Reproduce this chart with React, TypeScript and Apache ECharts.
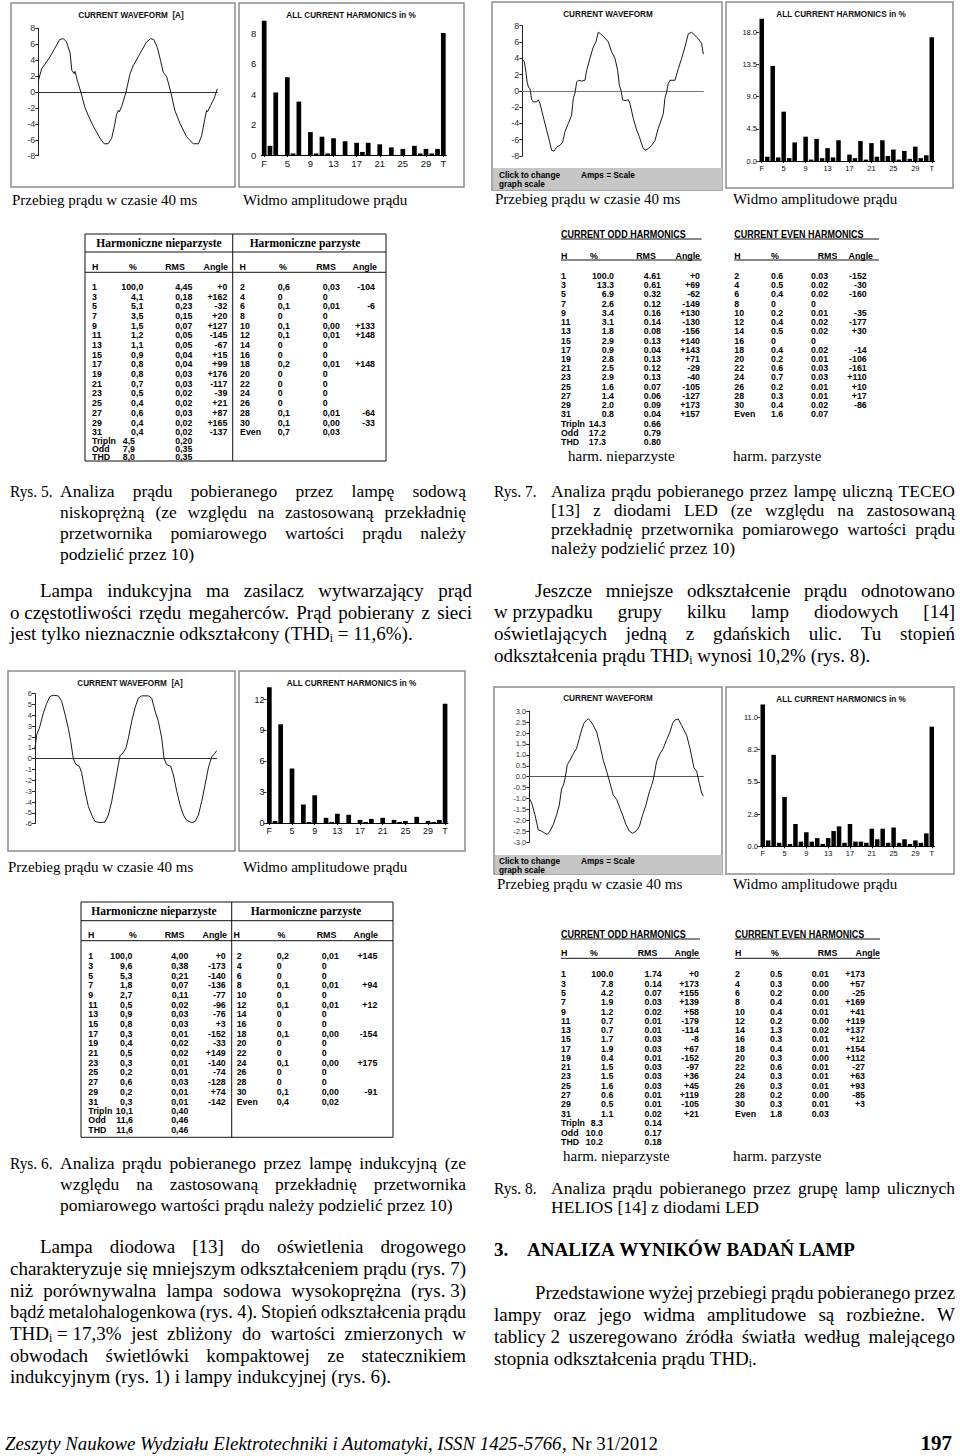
import { useEffect, useRef } from 'react';
import * as echarts from 'echarts';

// ======================= DATA =======================
const harmonicCategories = ['F','2','3','4','5','6','7','8','9','10','11','12','13','14','15','16','17','18','19','20','21','22','23','24','25','26','27','28','29','30','31','T'];
const oddOrders = [1,3,5,7,9,11,13,15,17,19,21,23,25,27,29,31];
const evenOrders = [2,4,6,8,10,12,14,16,18,20,22,24,26,28,30];
const summaryRowLabels = ['Tripln', 'Odd', 'THD'];

// --- Rys. 5 (lampa sodowa niskoprężna) ---
const rys5OddPct = [100.0, 4.1, 5.1, 3.5, 1.5, 1.2, 1.1, 0.9, 0.8, 0.8, 0.7, 0.5, 0.4, 0.6, 0.4, 0.4];
const rys5OddRms = [4.45, 0.18, 0.23, 0.15, 0.07, 0.05, 0.05, 0.04, 0.04, 0.03, 0.03, 0.02, 0.02, 0.03, 0.02, 0.02];
const rys5OddAng = [0, 162, -32, 20, 127, -145, -67, 15, 99, 176, -117, -39, 21, 87, 165, -137];
const rys5EvenPct = [0.6, 0, 0.1, 0, 0.1, 0.1, 0, 0, 0.2, 0, 0, 0, 0, 0.1, 0.1];
const rys5EvenRms = [0.03, 0, 0.01, 0, 0.00, 0.01, 0, 0, 0.01, 0, 0, 0, 0, 0.01, 0.00];
const rys5EvenAng = [-104, null, -6, null, 133, 148, null, null, 148, null, null, null, null, -64, -33];
const rys5SummaryPct = [4.5, 7.9, 8.0];
const rys5SummaryRms = [0.20, 0.35, 0.35];
const rys5EvenTotal = [0.7, 0.03];
const rys5WaveT = [0,0.74,2.6,3.7,4.8,5.6,6.3,7.1,7.5,8.0,8.2,8.7,9.5,10.4,11.2,12.3,13.8,14.7,15.6,16.4,17.1,17.5,17.9,18.1,18.7,19.6,20.5,21.2,22.7,24.2,25.1,25.8,26.6,27.3,27.9,28.3,28.7,29.6,30.5,31.7,33.1,34.6,35.8,36.5,37.2,37.6,37.8,38.5,39.3,40.0];
const rys5WaveI = [1.4,2.9,4.4,5.5,6.6,6.7,6.3,4.9,2.7,2.3,2.6,1.5,0.0,-1.9,-3.0,-4.3,-5.8,-6.5,-6.5,-5.8,-4.0,-2.8,-2.3,-2.5,-1.7,0.0,2.3,3.3,4.8,6.3,6.7,6.6,5.6,4.0,2.5,2.2,1.9,0.0,-2.3,-4.0,-5.6,-6.5,-6.5,-5.5,-3.4,-2.3,-2.5,-1.7,-0.8,0.4];
const rys5HarmTickValues = [0, 2, 4, 6, 8];
const rys5HarmTickLabels = ['0', '2', '4', '6', '8'];

// --- Rys. 7 (lampa TECEO z diodami LED) ---
const rys7OddPct = [100.0, 13.3, 6.9, 2.6, 3.4, 3.1, 1.8, 2.9, 0.9, 2.8, 2.5, 2.9, 1.6, 1.4, 2.0, 0.8];
const rys7OddRms = [4.61, 0.61, 0.32, 0.12, 0.16, 0.14, 0.08, 0.13, 0.04, 0.13, 0.12, 0.13, 0.07, 0.06, 0.09, 0.04];
const rys7OddAng = [0, 69, -62, -149, 130, -130, -156, 140, 143, 71, -29, -40, -105, -127, 173, 157];
const rys7EvenPct = [0.6, 0.5, 0.4, 0, 0.2, 0.4, 0.5, 0, 0.4, 0.2, 0.6, 0.7, 0.2, 0.3, 0.4];
const rys7EvenRms = [0.03, 0.02, 0.02, 0, 0.01, 0.02, 0.02, 0, 0.02, 0.01, 0.03, 0.03, 0.01, 0.01, 0.02];
const rys7EvenAng = [-152, -30, -160, null, -35, -177, 30, null, -14, -106, -161, 110, 10, 17, -86];
const rys7SummaryPct = [14.3, 17.2, 17.3];
const rys7SummaryRms = [0.66, 0.79, 0.80];
const rys7EvenTotal = [1.6, 0.07];
const rys7WaveT = [0,0.44,0.81,1.10,1.40,1.69,2.06,2.43,3.17,3.54,3.90,4.64,5.38,5.97,6.48,7.00,7.59,8.32,8.91,9.43,10.17,10.90,11.27,11.64,12.01,12.37,13.11,13.85,14.22,14.95,15.69,16.28,16.79,17.31,18.27,19.00,19.74,20.48,21.07,21.44,21.80,22.17,22.69,23.42,23.79,24.53,25.27,25.85,26.59,27.11,27.84,28.58,29.32,30.05,30.57,31.16,31.53,31.90,32.26,32.63,33.74,34.47,35.21,35.95,36.68,37.42,38.16,38.89,39.63,40.0];
const rys7WaveI = [3.8,3.6,2.3,1.0,0.4,0.3,-1.1,-1.35,-1.35,-1.1,-1.55,-3.2,-4.8,-6.1,-7.3,-7.4,-6.9,-6.7,-6.3,-5.0,-4.0,-3.0,-0.9,-0.3,1.1,1.3,1.2,1.3,2.5,4.0,5.4,6.0,7.2,7.0,6.5,6.0,4.8,4.0,2.5,0.7,0.1,-1.1,-1.2,-1.1,-1.55,-3.4,-4.8,-5.6,-6.9,-7.3,-7.1,-6.7,-6.1,-4.6,-3.8,-2.8,-0.9,-0.1,0.9,1.3,1.3,2.7,4.0,5.4,7.0,7.2,6.8,6.4,5.8,4.5];
const rys7HarmTickValues = [0, 4.5, 9, 13.5, 18];
const rys7HarmTickLabels = ['0.0', '4.5', '9.0', '13.5', '18.0'];

// --- Rys. 6 (lampa indukcyjna) ---
const rys6OddPct = [100.0, 9.6, 5.3, 1.8, 2.7, 0.5, 0.9, 0.8, 0.3, 0.4, 0.5, 0.3, 0.2, 0.6, 0.2, 0.3];
const rys6OddRms = [4.00, 0.38, 0.21, 0.07, 0.11, 0.02, 0.03, 0.03, 0.01, 0.02, 0.02, 0.01, 0.01, 0.03, 0.01, 0.01];
const rys6OddAng = [0, -173, -140, -136, -77, -96, -76, 3, -152, -33, 149, -140, -74, -128, 74, -142];
const rys6EvenPct = [0.2, 0, 0, 0.1, 0, 0.1, 0, 0, 0.1, 0, 0, 0.1, 0, 0, 0.1];
const rys6EvenRms = [0.01, 0, 0, 0.01, 0, 0.01, 0, 0, 0.00, 0, 0, 0.00, 0, 0, 0.00];
const rys6EvenAng = [145, null, null, 94, null, 12, null, null, -154, null, null, 175, null, null, -91];
const rys6SummaryPct = [10.1, 11.6, 11.6];
const rys6SummaryRms = [0.40, 0.46, 0.46];
const rys6EvenTotal = [0.4, 0.02];
const rys6WaveT = [0,0.37,0.95,1.83,2.57,3.30,4.04,5.14,5.87,6.61,7.34,7.86,8.44,9.03,9.76,10.28,11.01,11.74,12.48,13.21,14.31,15.41,16.15,16.88,17.62,18.35,18.72,19.31,20.04,20.55,21.29,22.02,22.76,23.49,24.96,25.69,26.43,27.16,27.90,28.41,29.00,29.88,30.46,31.20,31.93,32.67,33.40,34.50,35.23,35.97,36.70,37.44,38.17,38.91,39.64,40.0];
const rys6WaveI = [1.0,2.2,2.8,4.2,5.1,5.75,5.85,5.8,5.3,4.1,2.8,1.6,0,-0.55,-0.7,-1.3,-3.0,-4.4,-5.2,-5.8,-5.9,-5.85,-5.2,-3.95,-2.25,-0.55,0.3,0.5,1.0,1.9,3.45,4.7,5.6,5.8,5.8,5.6,4.4,3.45,1.9,0,-0.55,-0.7,-1.5,-3.0,-4.25,-5.2,-5.7,-5.9,-5.8,-5.2,-3.95,-2.4,-0.85,0.2,0.5,0.75];
const rys6HarmTickValues = [0, 3, 6, 9, 12];
const rys6HarmTickLabels = ['0', '3', '6', '9', '12'];

// --- Rys. 8 (grupa lamp HELIOS z diodami LED) ---
const rys8OddPct = [100.0, 7.8, 4.2, 1.9, 1.2, 0.7, 0.7, 1.7, 1.9, 0.4, 1.5, 1.5, 1.6, 0.6, 0.5, 1.1];
const rys8OddRms = [1.74, 0.14, 0.07, 0.03, 0.02, 0.01, 0.01, 0.03, 0.03, 0.01, 0.03, 0.03, 0.03, 0.01, 0.01, 0.02];
const rys8OddAng = [0, 173, 155, 139, 58, -179, -114, -8, 67, -152, -97, 36, 45, 119, -105, 21];
const rys8EvenPct = [0.5, 0.3, 0.2, 0.4, 0.4, 0.2, 1.3, 0.3, 0.4, 0.3, 0.6, 0.3, 0.3, 0.2, 0.3];
const rys8EvenRms = [0.01, 0.00, 0.00, 0.01, 0.01, 0.00, 0.02, 0.01, 0.01, 0.00, 0.01, 0.01, 0.01, 0.00, 0.01];
const rys8EvenAng = [173, 57, -25, 169, 41, 119, 137, 12, 154, 112, -27, 63, 93, -85, 3];
const rys8SummaryPct = [8.3, 10.0, 10.2];
const rys8SummaryRms = [0.14, 0.17, 0.18];
const rys8EvenTotal = [1.8, 0.03];
const rys8WaveT = [0,0.54,1.30,2.07,2.84,3.60,4.14,4.75,5.52,6.28,6.90,7.43,7.82,8.20,8.74,9.35,10.11,10.88,11.49,12.03,12.57,13.18,13.56,14.10,14.71,15.48,16.24,17.01,17.78,18.54,19.31,20.08,20.84,21.61,22.22,22.99,23.75,24.52,25.29,26.05,26.82,27.59,28.12,28.50,29.27,30.04,30.80,31.57,32.34,32.95,33.49,34.25,35.02,36.17,36.94,37.86,38.47,39.08,39.62,40.0];
const rys8WaveI = [-1.0,-1.2,-1.75,-2.45,-2.5,-2.6,-2.65,-2.5,-2.2,-1.75,-1.3,-0.55,-0.4,-0.1,0.55,0.75,1.05,1.3,1.75,2.15,2.45,2.6,2.65,2.55,2.35,2.05,1.45,0.75,0.25,-0.3,-0.85,-1.05,-1.45,-1.85,-2.2,-2.5,-2.6,-2.5,-2.3,-1.75,-1.3,-0.7,-0.4,-0.15,0.7,1.05,1.3,1.7,2.05,2.45,2.6,2.65,2.35,1.9,1.3,0.4,0.25,-0.3,-0.75,-0.9];
const rys8HarmTickValues = [0, 2.75, 5.5, 8.25, 11];
const rys8HarmTickLabels = ['0.0', '2.8', '5.5', '8.2', '11.0'];

// ======================= HELPERS =======================
const SERIF = '"Liberation Serif", "Times New Roman", serif';
const SANS = '"Liberation Sans", Arial, sans-serif';

let mctx: any = null;
function tw(text: string, size: number, family = SERIF, weight = 'normal', fstyle = 'normal') {
  if (!mctx) mctx = document.createElement('canvas').getContext('2d');
  mctx.font = `${fstyle} ${weight} ${size}px ${family}`;
  return mctx.measureText(text).width;
}

function T(x: number, y: number, text: string, size: number, o: any = {}) {
  return {
    type: 'text', x, y, silent: true,
    scaleX: o.scaleX ?? 1,
    style: {
      text,
      fill: o.color ?? '#000',
      fontSize: size,
      fontFamily: o.family ?? SERIF,
      fontWeight: o.weight ?? 'normal',
      fontStyle: o.fstyle ?? 'normal',
      align: o.align ?? 'left',
      verticalAlign: 'middle',
    },
  };
}
function L(x1: number, y1: number, x2: number, y2: number, color = '#000', w = 1) {
  return { type: 'line', silent: true, shape: { x1, y1, x2, y2 }, style: { stroke: color, lineWidth: w } };
}
function R(x: number, y: number, w: number, h: number, stroke: string | null, fill: string | null, lw = 1) {
  return { type: 'rect', silent: true, shape: { x, y, width: w, height: h }, style: { stroke: stroke ?? 'none', fill: fill ?? 'none', lineWidth: lw } };
}

function parseWord(w: string) {
  const segs: any[] = [];
  let buf = '';
  for (let i = 0; i < w.length; i++) {
    if (w[i] === '~' && i + 1 < w.length) {
      if (buf) segs.push({ t: buf, sub: false });
      buf = '';
      segs.push({ t: w[i + 1], sub: true });
      i++;
    } else buf += w[i];
  }
  if (buf) segs.push({ t: buf, sub: false });
  return segs;
}

// a line of text, justified between x0 and x1 when x1 is given
function textLine(out: any[], text: string, x0: number, x1: number | null, y: number, size: number, o: any = {}) {
  const fam = o.family ?? SERIF, wt = o.weight ?? 'normal', fs = o.fstyle ?? 'normal';
  const words = text.split(' ').map(parseWord);
  const segW = (g: any) => tw(g.t, g.sub ? size * 0.62 : size, fam, wt, fs);
  const widths = words.map((segs) => segs.reduce((s: number, g: any) => s + segW(g), 0));
  const total = widths.reduce((a, b) => a + b, 0);
  let sc = 1;
  let gap = tw(' ', size, fam, wt, fs);
  if (x1 != null && words.length > 1) {
    const minGap = size * 0.2;
    gap = (x1 - x0 - total) / (words.length - 1);
    if (gap < minGap) {
      gap = minGap;
      sc = (x1 - x0 - minGap * (words.length - 1)) / total;
    }
  }
  let x = x0;
  words.forEach((segs, i) => {
    let xx = x;
    segs.forEach((g: any) => {
      const s = g.sub ? size * 0.62 : size;
      out.push(T(xx, g.sub ? y + size * 0.28 : y, g.t, s, { family: fam, weight: wt, fstyle: fs, scaleX: sc }));
      xx += segW(g) * sc;
    });
    x += widths[i] * sc + gap;
  });
}

function harmonicBars(oddPct: number[], evenPct: number[], thd: number) {
  const out = [oddPct[0]];
  for (let k = 2; k <= 31; k++) out.push(k % 2 === 0 ? evenPct[(k - 2) / 2] : oddPct[(k - 1) / 2]);
  out.push(thd);
  return out;
}

const fmtNum = (v: number, d: number, sep: string) => v.toFixed(d).replace('.', sep);
const fmtPct = (v: number, sep: string) => (v === 0 ? '0' : fmtNum(v, 1, sep));
const fmtRms = (v: number, pct: number, sep: string) => (pct === 0 ? '0' : fmtNum(v, 2, sep));
const fmtAng = (a: number | null) => (a === null ? '' : (a >= 0 ? '+' : '') + a);

const TFS = 9.8;
const TSX = 0.9;

function tableBody(out: any[], d: any, c: any, sep: string) {
  const o = { family: SANS, weight: 'bold', scaleX: TSX };
  const rt = { ...o, align: 'right' };
  oddOrders.forEach((h, r) => {
    const y = c.y0 + r * c.dy;
    out.push(T(c.h, y, String(h), TFS, o));
    out.push(T(c.pctR, y, fmtPct(d.oddPct[r], sep), TFS, rt));
    out.push(T(c.rmsR, y, fmtRms(d.oddRms[r], d.oddPct[r], sep), TFS, rt));
    const a = fmtAng(d.oddAng[r]);
    if (a) out.push(T(c.angR, y, a, TFS, rt));
  });
  summaryRowLabels.forEach((lab, s) => {
    const y = c.y0 + 15 * c.dy + (s + 1) * c.sumDy;
    out.push(T(c.h, y, lab, TFS, o));
    out.push(T(c.sumPctR, y, fmtNum(d.sumPct[s], 1, sep), TFS, rt));
    out.push(T(c.rmsR, y, fmtNum(d.sumRms[s], 2, sep), TFS, rt));
  });
  evenOrders.forEach((h, r) => {
    const y = c.y0 + r * c.dy;
    out.push(T(c.eh, y, String(h), TFS, o));
    out.push(T(c.ep, y, fmtPct(d.evenPct[r], sep), TFS, o));
    out.push(T(c.er, y, fmtRms(d.evenRms[r], d.evenPct[r], sep), TFS, o));
    const a = fmtAng(d.evenAng[r]);
    if (a) out.push(T(c.eaR, y, a, TFS, rt));
  });
  const ye = c.y0 + 15 * c.dy;
  out.push(T(c.eh, ye, 'Even', TFS, o));
  out.push(T(c.ep, ye, fmtNum(d.evenTot[0], 1, sep), TFS, o));
  out.push(T(c.er, ye, fmtNum(d.evenTot[1], 2, sep), TFS, o));
}

function boxedTable(out: any[], d: any, c: any) {
  out.push(R(c.box[0], c.box[1], c.box[2], c.box[3], '#111', null, 1));
  out.push(L(c.sepX, c.box[1], c.sepX, c.box[1] + c.box[3], '#111'));
  out.push(L(c.box[0], c.hdrLineY, c.box[0] + c.box[2], c.hdrLineY, '#111'));
  out.push(L(c.box[0], c.colLineY, c.box[0] + c.box[2], c.colLineY, '#111'));
  out.push(T(c.hdrOddX, c.hdrY, 'Harmoniczne nieparzyste', 12.5, { align: 'center', weight: 'bold', scaleX: 0.92 }));
  out.push(T(c.hdrEvenX, c.hdrY, 'Harmoniczne parzyste', 12.5, { align: 'center', weight: 'bold', scaleX: 0.92 }));
  const o = { family: SANS, weight: 'bold', scaleX: TSX };
  c.labels.forEach((lb: any) => out.push(T(lb[1], c.labY, lb[0], TFS, { ...o, align: lb[2] })));
  tableBody(out, d, c, ',');
}

function ulTable(out: any[], d: any, c: any) {
  const o = { family: SANS, weight: 'bold', scaleX: 0.86 };
  out.push(T(c.oddX0, c.titleY, 'CURRENT ODD HARMONICS', 10.5, o));
  out.push(T(c.evenX0, c.titleY, 'CURRENT EVEN HARMONICS', 10.5, o));
  out.push(L(c.oddX0, c.ul1, c.oddX1, c.ul1, '#111'));
  out.push(L(c.evenX0, c.ul1, c.evenX1, c.ul1, '#111'));
  out.push(L(c.oddX0, c.ul2, c.oddX1, c.ul2, '#111'));
  out.push(L(c.evenX0, c.ul2, c.evenX1, c.ul2, '#111'));
  const lo = { family: SANS, weight: 'bold', scaleX: TSX };
  c.labels.forEach((lb: any) => out.push(T(lb[1], c.labY, lb[0], TFS, { ...lo, align: lb[2] })));
  tableBody(out, d, c, '.');
}

// ======================= OPTION =======================
function buildOption() {
  const g: any[] = [];

  // ---- chart panels ----
  const panel = (x: number, y: number, w: number, h: number) => g.push(R(x, y, w, h, '#8c8c8c', null, 1.5));
  panel(11, 3, 224, 184); panel(239, 3, 225, 184);
  panel(492, 2, 230, 188); panel(726, 2, 227, 186);
  panel(8, 671, 227, 180); panel(239, 671, 226, 180);
  panel(494, 687, 228, 187); panel(726, 687, 228, 187);
  g.push(R(493, 168, 229, 22, null, '#c6c6c6'));
  g.push(R(495, 855, 227, 19, null, '#c6c6c6'));
  const tOpt = { family: SANS, weight: 'bold', align: 'center', scaleX: 0.86, color: '#111' };
  g.push(T(131, 15, 'CURRENT WAVEFORM \u00a0[A]', 9.5, tOpt));
  g.push(T(351, 15, 'ALL CURRENT HARMONICS in %', 9.5, tOpt));
  g.push(T(608, 14, 'CURRENT WAVEFORM', 9.5, tOpt));
  g.push(T(841, 14, 'ALL CURRENT HARMONICS in %', 9.5, tOpt));
  g.push(T(130, 683, 'CURRENT WAVEFORM \u00a0[A]', 9.5, tOpt));
  g.push(T(351.5, 683, 'ALL CURRENT HARMONICS in %', 9.5, tOpt));
  g.push(T(608, 698, 'CURRENT WAVEFORM', 9.5, tOpt));
  g.push(T(841, 698.7, 'ALL CURRENT HARMONICS in %', 9.5, tOpt));
  const gb = { family: SANS, weight: 'bold', scaleX: 0.92 };
  g.push(T(499, 174.5, 'Click to change', 9, gb));
  g.push(T(499, 183.5, 'graph scale', 9, gb));
  g.push(T(581, 174.5, 'Amps = Scale', 9, gb));
  g.push(T(499, 860.5, 'Click to change', 9, gb));
  g.push(T(499, 869.5, 'graph scale', 9, gb));
  g.push(T(581, 860.5, 'Amps = Scale', 9, gb));

  // ---- captions under the charts ----
  g.push(T(12, 200, 'Przebieg prądu w czasie 40 ms', 15));
  g.push(T(243, 200, 'Widmo amplitudowe prądu', 15));
  g.push(T(495, 199, 'Przebieg prądu w czasie 40 ms', 15));
  g.push(T(733, 199, 'Widmo amplitudowe prądu', 15));
  g.push(T(8, 867, 'Przebieg prądu w czasie 40 ms', 15));
  g.push(T(243, 867, 'Widmo amplitudowe prądu', 15));
  g.push(T(497, 884, 'Przebieg prądu w czasie 40 ms', 15));
  g.push(T(733, 884, 'Widmo amplitudowe prądu', 15));
  g.push(T(568, 456, 'harm. nieparzyste', 15));
  g.push(T(733, 456, 'harm. parzyste', 15));
  g.push(T(563, 1156, 'harm. nieparzyste', 15));
  g.push(T(733, 1156, 'harm. parzyste', 15));

  // ---- tables ----
  boxedTable(g, {
    oddPct: rys5OddPct, oddRms: rys5OddRms, oddAng: rys5OddAng, evenPct: rys5EvenPct, evenRms: rys5EvenRms, evenAng: rys5EvenAng,
    sumPct: rys5SummaryPct, sumRms: rys5SummaryRms, evenTot: rys5EvenTotal,
  }, {
    box: [85, 234, 301, 227], sepX: 232.7, hdrLineY: 252, colLineY: 272.3, hdrY: 243, hdrOddX: 159, hdrEvenX: 305, labY: 266.5,
    labels: [['H', 92, 'left'], ['%', 133, 'center'], ['RMS', 175, 'center'], ['Angle', 228, 'right'], ['H', 239.5, 'left'], ['%', 283, 'center'], ['RMS', 326, 'center'], ['Angle', 377, 'right']],
    y0: 286.7, dy: 9.69, sumDy: 8.4, h: 92, pctR: 143.3, sumPctR: 135, rmsR: 192.3, angR: 227.3, eh: 240, ep: 277.7, er: 322.7, eaR: 375,
  });
  boxedTable(g, {
    oddPct: rys6OddPct, oddRms: rys6OddRms, oddAng: rys6OddAng, evenPct: rys6EvenPct, evenRms: rys6EvenRms, evenAng: rys6EvenAng,
    sumPct: rys6SummaryPct, sumRms: rys6SummaryRms, evenTot: rys6EvenTotal,
  }, {
    box: [81, 902, 312, 235.3], sepX: 231.7, hdrLineY: 920.7, colLineY: 940.7, hdrY: 911.3, hdrOddX: 154, hdrEvenX: 306, labY: 935,
    labels: [['H', 88, 'left'], ['%', 133, 'center'], ['RMS', 174.5, 'center'], ['Angle', 227, 'right'], ['H', 233.5, 'left'], ['%', 281.5, 'center'], ['RMS', 326.5, 'center'], ['Angle', 378, 'right']],
    y0: 956.3, dy: 9.67, sumDy: 9.4, h: 88.3, pctR: 132.3, sumPctR: 133, rmsR: 188.3, angR: 225.7, eh: 236.7, ep: 276.7, er: 321.7, eaR: 377.3,
  });
  ulTable(g, {
    oddPct: rys7OddPct, oddRms: rys7OddRms, oddAng: rys7OddAng, evenPct: rys7EvenPct, evenRms: rys7EvenRms, evenAng: rys7EvenAng,
    sumPct: rys7SummaryPct, sumRms: rys7SummaryRms, evenTot: rys7EvenTotal,
  }, {
    titleY: 234.3, ul1: 239, oddX0: 561, oddX1: 701.7, evenX0: 734.3, evenX1: 879, labY: 255.5, ul2: 260,
    labels: [['H', 561, 'left'], ['%', 594, 'center'], ['RMS', 646, 'center'], ['Angle', 700, 'right'], ['H', 734.3, 'left'], ['%', 775, 'center'], ['RMS', 827.5, 'center'], ['Angle', 873, 'right']],
    y0: 275.7, dy: 9.24, sumDy: 9.24, h: 561, pctR: 614, sumPctR: 606, rmsR: 661, angR: 700, eh: 734.3, ep: 771, er: 811, eaR: 866.7,
  });
  ulTable(g, {
    oddPct: rys8OddPct, oddRms: rys8OddRms, oddAng: rys8OddAng, evenPct: rys8EvenPct, evenRms: rys8EvenRms, evenAng: rys8EvenAng,
    sumPct: rys8SummaryPct, sumRms: rys8SummaryRms, evenTot: rys8EvenTotal,
  }, {
    titleY: 934.3, ul1: 939, oddX0: 561, oddX1: 700, evenX0: 735, evenX1: 880, labY: 953, ul2: 958.3,
    labels: [['H', 561, 'left'], ['%', 594, 'center'], ['RMS', 647.5, 'center'], ['Angle', 699, 'right'], ['H', 735, 'left'], ['%', 775, 'center'], ['RMS', 827.5, 'center'], ['Angle', 880, 'right']],
    y0: 974.3, dy: 9.27, sumDy: 9.5, h: 561, pctR: 613.3, sumPctR: 603, rmsR: 661.7, angR: 699, eh: 735, ep: 770, er: 811.7, eaR: 865,
  });

  // ---- body text ----
  const CAP = 17.5, BODY = 19;
  const rysO = { scaleX: 0.88 };
  g.push(T(10, 491, 'Rys. 5.', CAP, rysO));
  textLine(g, 'Analiza prądu pobieranego przez lampę sodową', 60, 466, 491, CAP);
  textLine(g, 'niskoprężną (ze względu na zastosowaną przekładnię', 60, 466, 512, CAP);
  textLine(g, 'przetwornika pomiarowego wartości prądu należy', 60, 466, 533, CAP);
  textLine(g, 'podzielić przez 10)', 60, null, 554, CAP);
  textLine(g, 'Lampa indukcyjna ma zasilacz wytwarzający prąd', 40, 472, 590, BODY);
  textLine(g, 'o\u00a0częstotliwości rzędu megaherców. Prąd pobierany z sieci', 10, 472, 612, BODY);
  textLine(g, 'jest tylko nieznacznie odkształcony (THD~i\u00a0=\u00a011,6%).', 10, null, 633, BODY);

  g.push(T(494, 491, 'Rys. 7.', CAP, rysO));
  textLine(g, 'Analiza prądu pobieranego przez lampę uliczną TECEO', 551, 955, 491, CAP);
  textLine(g, '[13] z diodami LED (ze względu na zastosowaną', 551, 955, 510, CAP);
  textLine(g, 'przekładnię przetwornika pomiarowego wartości prądu', 551, 955, 529, CAP);
  textLine(g, 'należy podzielić przez 10)', 551, null, 548, CAP);
  textLine(g, 'Jeszcze mniejsze odkształcenie prądu odnotowano', 535, 955, 590, BODY);
  textLine(g, 'w\u00a0przypadku grupy kilku lamp diodowych [14]', 494, 955, 611, BODY);
  textLine(g, 'oświetlających jedną z gdańskich ulic. Tu stopień', 494, 955, 633, BODY);
  textLine(g, 'odkształcenia prądu THD~i wynosi 10,2% (rys. 8).', 494, null, 655, BODY);

  g.push(T(10, 1163, 'Rys. 6.', CAP, rysO));
  textLine(g, 'Analiza prądu pobieranego przez lampę indukcyjną (ze', 60, 466, 1163, CAP);
  textLine(g, 'względu na zastosowaną przekładnię przetwornika', 60, 466, 1184, CAP);
  textLine(g, 'pomiarowego wartości prądu należy podzielić przez 10)', 60, null, 1205, CAP);
  textLine(g, 'Lampa diodowa [13] do oświetlenia drogowego', 40, 466, 1246, BODY);
  textLine(g, 'charakteryzuje się mniejszym odkształceniem prądu (rys.\u00a07)', 10, 466, 1268, BODY);
  textLine(g, 'niż porównywalna lampa sodowa wysokoprężna (rys.\u00a03)', 10, 466, 1290, BODY);
  textLine(g, 'bądź metalohalogenkowa (rys.\u00a04). Stopień odkształcenia prądu', 10, 466, 1311, BODY);
  textLine(g, 'THD~i\u00a0=\u00a017,3% jest zbliżony do wartości zmierzonych w', 10, 466, 1333, BODY);
  textLine(g, 'obwodach świetlówki kompaktowej ze statecznikiem', 10, 466, 1355, BODY);
  textLine(g, 'indukcyjnym (rys. 1) i lampy indukcyjnej (rys. 6).', 10, null, 1376, BODY);

  g.push(T(494, 1188, 'Rys. 8.', CAP, rysO));
  textLine(g, 'Analiza prądu pobieranego przez grupę lamp ulicznych', 551, 955, 1188, CAP);
  textLine(g, 'HELIOS [14] z diodami LED', 551, null, 1207, CAP);
  g.push(T(494, 1249, '3.', BODY, { weight: 'bold' }));
  textLine(g, 'ANALIZA WYNIKÓW BADAŃ LAMP', 527, null, 1249, BODY, { weight: 'bold' });
  textLine(g, 'Przedstawione wyżej przebiegi prądu pobieranego przez', 535, 955, 1292, BODY);
  textLine(g, 'lampy oraz jego widma amplitudowe są rozbieżne. W', 494, 955, 1314, BODY);
  textLine(g, 'tablicy\u00a02 uszeregowano źródła światła według malejącego', 494, 955, 1336, BODY);
  textLine(g, 'stopnia odkształcenia prądu THD~i.', 494, null, 1358, BODY);

  // footer
  const fa = 'Zeszyty Naukowe Wydziału Elektrotechniki i Automatyki, ISSN 1425-5766';
  const fb = ', Nr 31/2012';
  const wa = tw(fa, 19, SERIF, 'normal', 'italic');
  const wb = tw(fb, 19, SERIF, 'normal', 'normal');
  const sc = 653 / (wa + wb);
  g.push(T(5, 1443, fa, 19, { fstyle: 'italic', scaleX: sc }));
  g.push(T(5 + wa * sc, 1443, fb, 19, { scaleX: sc }));
  g.push(T(952, 1443, '197', 21, { weight: 'bold', align: 'right' }));

  // ---- charts ----
  const waves = [
    { t: rys5WaveT, i: rys5WaveI, box: [38.3, 28.3, 179, 127.4], min: -8, max: 8, step: 2, dec: 0, fs: 9, zero: '#333' },
    { t: rys7WaveT, i: rys7WaveI, box: [522.3, 25.7, 181, 130.3], min: -8, max: 8, step: 2, dec: 0, fs: 9, zero: '#777' },
    { t: rys6WaveT, i: rys6WaveI, box: [35, 693.7, 181.7, 130], min: -6, max: 6, step: 1, dec: 0, fs: 7.5, zero: '#333' },
    { t: rys8WaveT, i: rys8WaveI, box: [529.3, 711.3, 174, 130.7], min: -3, max: 3, step: 0.5, dec: 1, fs: 7.5, zero: '#555' },
  ];
  const harms = [
    { data: harmonicBars(rys5OddPct, rys5EvenPct, rys5SummaryPct[2]), box: [261.3, 20.8, 184.9, 134.2], max: 8.8, step: 2, tv: rys5HarmTickValues, tl: rys5HarmTickLabels, fsx: 9.5, fsy: 9.5, yTick: false, bw: 4.7 },
    { data: harmonicBars(rys7OddPct, rys7EvenPct, rys7SummaryPct[2]), box: [759, 18.7, 175.5, 142.3], max: 19.9, step: 4.5, tv: rys7HarmTickValues, tl: rys7HarmTickLabels, fsx: 7.5, fsy: 7.5, yTick: true, bw: 4.5 },
    { data: harmonicBars(rys6OddPct, rys6EvenPct, rys6SummaryPct[2]), box: [266.5, 687.3, 181.4, 135.7], max: 13.2, step: 3, tv: rys6HarmTickValues, tl: rys6HarmTickLabels, fsx: 9, fsy: 9, yTick: true, bw: 4.7 },
    { data: harmonicBars(rys8OddPct, rys8EvenPct, rys8SummaryPct[2]), box: [760, 704.4, 174.5, 141.9], max: 12.1, step: 2.75, tv: rys8HarmTickValues, tl: rys8HarmTickLabels, fsx: 7.5, fsy: 7.5, yTick: true, bw: 4.5 },
  ];

  const grid: any[] = [], xAxis: any[] = [], yAxis: any[] = [], series: any[] = [];
  waves.forEach((w, k) => {
    grid.push({ left: w.box[0], top: w.box[1], width: w.box[2], height: w.box[3] });
    xAxis.push({
      gridIndex: k, type: 'value', min: 0, max: 40,
      axisLine: { show: true, onZero: true, lineStyle: { color: w.zero, width: 1 } },
      axisTick: { show: false }, axisLabel: { show: false }, splitLine: { show: false },
    });
    yAxis.push({
      gridIndex: k, type: 'value', min: w.min, max: w.max, interval: w.step,
      axisLine: { show: true, onZero: false, lineStyle: { color: '#222', width: 1 } },
      axisTick: { show: true, length: 3, lineStyle: { color: '#222' } },
      axisLabel: { fontSize: w.fs, color: '#333', margin: 3, fontFamily: SANS, formatter: (v: number) => v.toFixed(w.dec) },
      splitLine: { show: false },
    });
    series.push({
      type: 'line', xAxisIndex: k, yAxisIndex: k,
      data: w.t.map((tt, j) => [tt, w.i[j]]),
      showSymbol: false, symbol: 'none', silent: true,
      lineStyle: { color: '#1a1a1a', width: 1 },
    });
  });
  const lab = (idx: number) => idx % 4 === 0 || idx === 31;
  harms.forEach((h, k0) => {
    const k = k0 + 4;
    grid.push({ left: h.box[0], top: h.box[1], width: h.box[2], height: h.box[3] });
    xAxis.push({
      gridIndex: k, type: 'category', data: harmonicCategories,
      axisLine: { show: true, lineStyle: { color: '#000', width: 1 } },
      axisTick: { show: true, alignWithLabel: true, length: 2, interval: lab, lineStyle: { color: '#000' } },
      axisLabel: { interval: lab, fontSize: h.fsx, margin: 3, color: '#111', fontFamily: SANS },
      splitLine: { show: false },
    });
    yAxis.push({
      gridIndex: k, type: 'value', min: 0, max: h.max, interval: h.step,
      axisLine: { show: false },
      axisTick: { show: h.yTick, length: 3, customValues: h.tv, lineStyle: { color: '#333' } },
      axisLabel: {
        customValues: h.tv, fontSize: h.fsy, margin: h.yTick ? 2 : 5, color: '#111', fontFamily: SANS,
        formatter: (v: number) => { const i = h.tv.findIndex((t) => Math.abs(t - v) < 1e-6); return i >= 0 ? h.tl[i] : ''; },
      },
      splitLine: { show: false },
    });
    series.push({
      type: 'bar', xAxisIndex: k, yAxisIndex: k, data: h.data, barWidth: h.bw, clip: true, silent: true,
      itemStyle: { color: '#000' },
    });
  });

  return {
    animation: false,
    backgroundColor: '#fff',
    grid, xAxis, yAxis, series,
    graphic: { elements: g },
  };
}

export default function App() {
  const ref = useRef<HTMLDivElement>(null);
  useEffect(() => {
    document.body.style.margin = '0';
    const chart = echarts.init(ref.current!, null, { renderer: 'svg', width: 960, height: 1456 });
    chart.setOption(buildOption() as any);
    return () => chart.dispose();
  }, []);
  return <div ref={ref} style={{ position: 'absolute', left: 0, top: 0, width: 960, height: 1456, background: '#fff' }} />;
}
